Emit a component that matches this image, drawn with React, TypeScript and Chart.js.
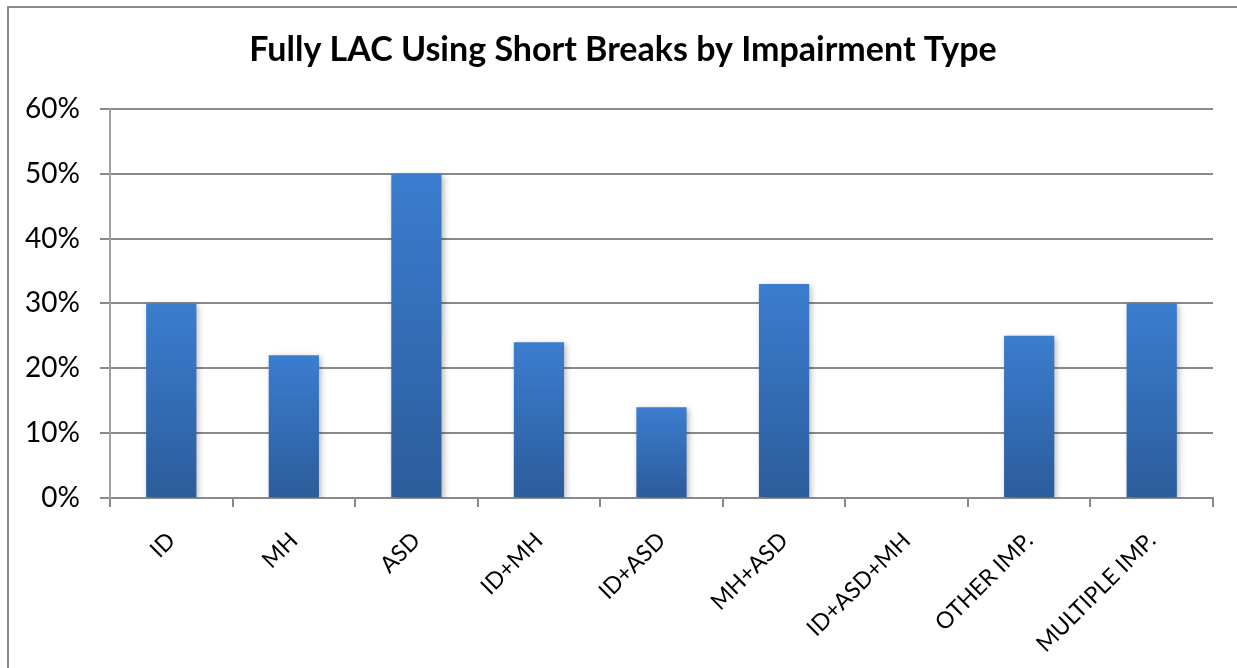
import React, { useEffect, useRef } from "react";
import { Chart, registerables } from "chart.js";

Chart.register(...registerables);

const TITLE = "Fully LAC Using Short Breaks by Impairment Type";
const CATEGORIES = ["ID", "MH", "ASD", "ID+MH", "ID+ASD", "MH+ASD", "ID+ASD+MH", "OTHER IMP.", "MULTIPLE IMP."];
const VALUES = [30, 22, 50, 24, 14, 33, 0, 25, 30];
const Y_TICKS = [0, 10, 20, 30, 40, 50, 60];

const FONT = "Lato, 'Open Sans', sans-serif";
const GRID = "#8a8a8a";

const shadowPlugin = {
  id: "barShadow",
  beforeDatasetsDraw(chart: any) {
    const ctx = chart.ctx;
    ctx.save();
    ctx.shadowColor = "rgba(0,0,0,0.28)";
    ctx.shadowBlur = 6;
    ctx.shadowOffsetX = 2;
    ctx.shadowOffsetY = 2;
  },
  afterDatasetsDraw(chart: any) {
    chart.ctx.restore();
  },
};

export default function App() {
  const ref = useRef<HTMLCanvasElement | null>(null);

  useEffect(() => {
    if (!ref.current) return;
    const chart = new Chart(ref.current, {
      type: "bar",
      data: {
        labels: CATEGORIES,
        datasets: [
          {
            data: VALUES,
            barPercentage: 0.41,
            categoryPercentage: 1,
            backgroundColor: (c: any) => {
              const ch = c.chart;
              const y = ch.scales?.y;
              if (!y || !ch.chartArea) return "#3570b8";
              const v = typeof c.raw === "number" ? c.raw : 0;
              const top = y.getPixelForValue(v);
              const bot = y.getPixelForValue(0);
              if (!isFinite(top) || !isFinite(bot) || bot - top < 1) return "#3570b8";
              const g = ch.ctx.createLinearGradient(0, top, 0, bot);
              g.addColorStop(0, "#3b7dcf");
              g.addColorStop(1, "#2c5c9b");
              return g;
            },
            borderWidth: 0,
          },
        ],
      },
      options: {
        animation: false,
        responsive: false,
        maintainAspectRatio: false,
        layout: { padding: 0 },
        plugins: {
          legend: { display: false },
          tooltip: { enabled: false },
          title: {
            display: true,
            text: TITLE,
            color: "#000",
            font: { family: FONT, size: 34, weight: "bold", lineHeight: 1.2 },
            padding: { top: 22, bottom: 38 },
          },
        },
        scales: {
          x: {
            grid: {
              offset: true,
              drawOnChartArea: false,
              drawTicks: true,
              tickLength: 9,
              color: GRID,
              lineWidth: 2,
            },
            border: { display: true, color: GRID, width: 2 },
            ticks: {
              color: "#000",
              font: { family: FONT, size: 23 },
              minRotation: 45,
              maxRotation: 45,
              autoSkip: false,
              padding: 20,
            },
            afterFit(scale: any) {
              scale.height = 170;
            },
          },
          y: {
            min: 0,
            max: 60,
            afterBuildTicks(scale: any) {
              scale.ticks = Y_TICKS.map((v) => ({ value: v }));
            },
            grid: {
              drawTicks: true,
              tickLength: 10,
              color: GRID,
              lineWidth: 2,
            },
            border: { display: true, color: "#a0a0a0", width: 2 },
            ticks: {
              color: "#000",
              font: { family: FONT, size: 28 },
              padding: 20,
              callback: (v: any) => v + "%",
            },
            afterFit(scale: any) {
              scale.width = 101;
            },
          },
          spacer: {
            type: "linear",
            position: "right",
            display: true,
            grid: { display: false, drawTicks: false },
            border: { display: false },
            ticks: { display: false },
            afterFit(scale: any) {
              scale.width = 24;
            },
          },
        },
      },
      plugins: [shadowPlugin],
    } as any);
    return () => chart.destroy();
  }, []);

  return (
    <div
      style={{
        position: "fixed",
        left: 7,
        top: 6,
        width: 1230,
        height: 662,
        borderLeft: "2px solid #8c8c8c",
        borderTop: "2px solid #8c8c8c",
        background: "#fff",
        overflow: "hidden",
      }}
    >
      <canvas ref={ref} width={1228} height={660} style={{ display: "block" }} />
    </div>
  );
}
